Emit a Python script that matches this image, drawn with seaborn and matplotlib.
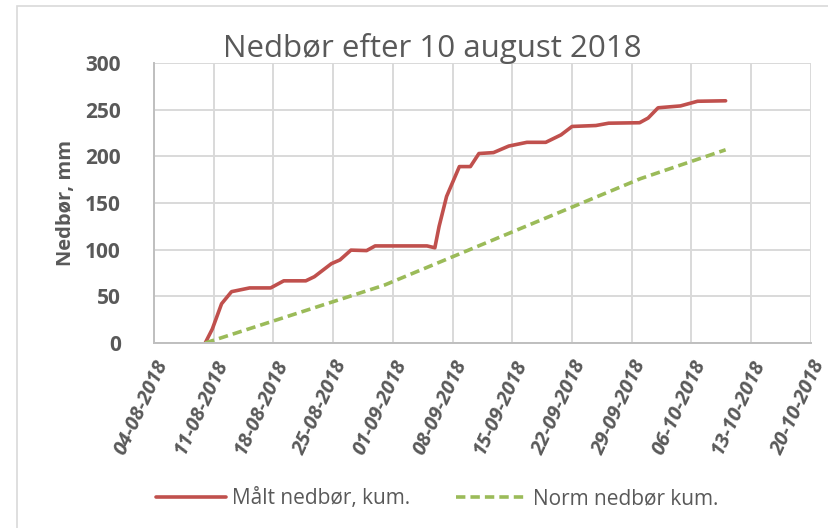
import pandas as pd
import matplotlib
matplotlib.use("Agg")
import matplotlib.pyplot as plt
import matplotlib.dates as mdates
from matplotlib.patches import Rectangle
import seaborn as sns

maalt_datoer = ["2018-08-10 00:00", "2018-08-10 20:00", "2018-08-11 22:00", "2018-08-13 02:00",
                "2018-08-15 05:00", "2018-08-17 16:00", "2018-08-19 05:00", "2018-08-21 19:00",
                "2018-08-22 19:00", "2018-08-24 19:00", "2018-08-25 19:00", "2018-08-27 02:00",
                "2018-08-28 22:00", "2018-08-29 22:00", "2018-09-05 00:00", "2018-09-05 22:00",
                "2018-09-06 10:00", "2018-09-07 07:00", "2018-09-08 19:00", "2018-09-10 02:00",
                "2018-09-11 02:00", "2018-09-12 19:00", "2018-09-14 14:00", "2018-09-16 17:00",
                "2018-09-18 22:00", "2018-09-20 17:00", "2018-09-22 00:00", "2018-09-24 19:00",
                "2018-09-26 07:00", "2018-09-29 22:00", "2018-09-30 22:00", "2018-10-02 02:00",
                "2018-10-04 17:00", "2018-10-06 17:00", "2018-10-10 00:00"]
maalt_mm = [0, 15, 42, 55, 59, 59, 66.6, 66.6, 71, 85, 89, 99.5, 99, 104, 104, 102,
            125, 157, 189, 189, 203, 204, 211, 215, 215, 223, 232, 233, 235.5, 236,
            241, 252, 254, 259, 259.5]

# normal cumulative precipitation
norm_datoer = ["2018-08-10", "2018-08-31", "2018-09-30", "2018-10-10"]
norm_mm = [0, 62, 176, 207]

tick_datoer = pd.date_range("2018-08-04", "2018-10-20", freq="7D")

df_maalt = pd.DataFrame({"dato": pd.to_datetime(maalt_datoer), "mm": maalt_mm})
df_norm = pd.DataFrame({"dato": pd.to_datetime(norm_datoer), "mm": norm_mm})

sns.set_style("white")
plt.rcParams["font.family"] = ["Open Sans", "DejaVu Sans"]
grey = "#595959"

fig = plt.figure(figsize=(8.29, 5.28), dpi=100)
ax = fig.add_axes([0.1858, 0.3504, 0.7924, 0.5303])

sns.lineplot(data=df_maalt, x="dato", y="mm", ax=ax, color="#C0504D", linewidth=2.6,
             label="Målt nedbør, kum.")
sns.lineplot(data=df_norm, x="dato", y="mm", ax=ax, color="#9BBB59", linewidth=2.6,
             label="Norm nedbør kum.")
ax.lines[1].set_dashes([2.6, 1.4])

ax.set_xlim(tick_datoer[0], tick_datoer[-1])
ax.set_ylim(0, 300)
ax.set_yticks(range(0, 301, 50))
ax.set_xticks(tick_datoer)
ax.xaxis.set_major_formatter(mdates.DateFormatter("%d-%m-%Y"))
ax.grid(True, color="#d9d9d9", linewidth=1.4)
for s in ["top", "right"]:
    ax.spines[s].set_visible(False)
for s in ["left", "bottom"]:
    ax.spines[s].set_color("#bfbfbf")
    ax.spines[s].set_linewidth(1.4)
ax.tick_params(length=0, colors=grey)
ax.tick_params(axis="y", pad=24, labelsize=15)
ax.tick_params(axis="x", pad=10, labelsize=14.6)
for lbl in ax.get_yticklabels():
    lbl.set_fontweight("bold")
for lbl in ax.get_xticklabels():
    lbl.set_fontweight("bold")
    lbl.set_fontstyle("italic")
    lbl.set_rotation(65)
    lbl.set_ha("right")
    lbl.set_rotation_mode("anchor")

ax.set_xlabel("")
ax.set_ylabel("Nedbør, mm", fontsize=14.5, fontweight="bold", color=grey, labelpad=6)
ax.set_title("")
fig.text(432 / 829, 1 - 57 / 528, "Nedbør efter 10 august 2018", fontsize=22.5,
         color=grey, ha="center", va="baseline")

leg = ax.legend(loc="center", bbox_to_anchor=(0.431, -0.557), ncol=2, frameon=False,
                handlelength=3.36, columnspacing=2.2, handletextpad=0.33,
                prop={"size": 15}, labelcolor=grey)

fig.patches.append(Rectangle((0.0205, -0.05), 1.1, 1.039, transform=fig.transFigure,
                             fill=False, edgecolor="#d9d9d9", linewidth=1.2))

fig.savefig("out.png", dpi=100)
